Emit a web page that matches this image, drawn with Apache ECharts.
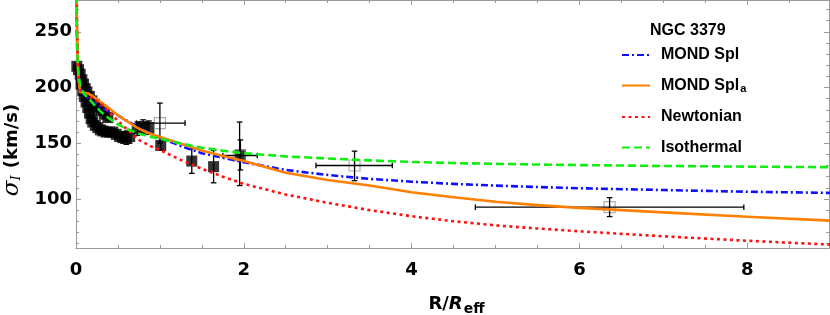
<!DOCTYPE html>
<html><head><meta charset="utf-8">
<script src="https://cdn.jsdelivr.net/npm/echarts@6/dist/echarts.min.js"></script>
<style>html,body{margin:0;padding:0;background:#fff}#c{width:830px;height:315px}</style>
</head><body><div id="c"></div>
<script>
// ---- data ----
const curveX     = [0.001, 0.01, 0.02, 0.03, 0.05, 0.08, 0.1, 0.15, 0.2, 0.3, 0.4, 0.5, 0.6, 0.75, 0.9, 1.0, 1.25, 1.5, 1.75, 2, 2.5, 3, 3.5, 4, 4.5, 5, 5.5, 6, 7, 8, 9];
const mondSpl    = [400, 250, 225, 212, 200, 195, 193, 190, 187, 182, 178.5, 175, 170.5, 164, 158.5, 155, 147.5, 141, 137, 133, 126, 121.5, 118, 115.5, 113.5, 112, 110.7, 109.6, 108, 106.5, 105.4];
const mondSpla   = [420, 262, 225, 207, 196, 195.6, 195.8, 194.5, 192, 186.5, 181, 175, 170, 163, 158, 155.6, 149.5, 143.5, 138.5, 134, 123.5, 117, 112, 106, 101.5, 97.5, 94.5, 92, 88, 84, 80.5];
const newtonian  = [420, 262, 225, 210, 198, 195, 194, 192, 190, 185, 177.5, 170, 163, 153, 147, 144, 135, 127, 120, 113.5, 104, 96.5, 90, 84.5, 80, 76.3, 73.5, 71, 66.5, 62.5, 59];
const isothermal = [380, 240, 222, 212, 202, 197, 194, 190, 186, 178, 172, 167, 163, 158.6, 155.5, 154, 149.7, 146, 143.3, 141, 138.2, 136.3, 134.6, 133.2, 132.2, 131.5, 130.9, 130.4, 129.6, 129, 128.5];

// filled data points (x, sigma, error)
const filledX   = [0.01, 0.03, 0.05, 0.07, 0.09, 0.11, 0.13, 0.16, 0.19, 0.22, 0.26, 0.30, 0.34, 0.38,
                   0.06, 0.08, 0.10, 0.12, 0.14, 0.16, 0.18, 0.20, 0.23, 0.26, 0.29, 0.32, 0.36, 0.40, 0.44, 0.48, 0.52, 0.56, 0.60, 0.64,
                   0.73, 0.80, 0.87, 1.01, 1.38, 1.64, 1.96];
const filledY   = [219, 216, 212, 207, 203, 199, 196, 192, 188, 185, 182, 179, 176, 173,
                   203, 197, 192, 187, 182, 177, 172, 169, 166, 164, 162, 161, 160, 160, 160, 158, 156, 155, 155, 156,
                   163, 165, 164, 148, 134, 129, 139.5];
const filledErr = [3, 3, 3, 3, 3, 3, 3, 3, 3, 3, 3, 3, 3, 3,
                   3, 3, 3, 3, 3, 3, 3, 3, 3, 3, 3, 3, 3, 3, 3, 4, 4, 5, 6, 6,
                   6, 6, 6, 4, 11, 14.5, 13.5];

// open data points (x, sigma, x-range, sigma-range)
const openX   = [1.0, 1.95, 3.32, 6.36];
const openY   = [168, 139, 130, 92.6];
const openXLo = [0.72, 1.75, 2.86, 4.76];
const openXHi = [1.30, 2.16, 3.77, 7.96];
const openYLo = [150, 112, 116.4, 84.2];
const openYHi = [186, 169, 142.9, 101.2];

// axes ticks
const xTickLabels = [0, 2, 4, 6, 8];
const xMinorTicks = [0.5, 1, 1.5, 2.5, 3, 3.5, 4.5, 5, 5.5, 6.5, 7, 7.5, 8.5];
const yTickLabels = [100, 150, 200, 250];
const yMinorTicks = [60, 70, 80, 90, 110, 120, 130, 140, 160, 170, 180, 190, 210, 220, 230, 240, 260, 270];

const X_MIN = 0, X_MAX = 8.975, Y_MIN = 56, Y_MAX = 278.5;
const FRAME = '#9a9a9a';
const FONT = 'Liberation Sans, Arial, sans-serif';
const WIDE = 'DejaVu Sans, sans-serif';

function zip(a, b) { return a.map((v, i) => [v, b[i]]); }

function xAxisDef(pos, major, showLabel) {
  return {
    type: 'value', min: X_MIN, max: X_MAX, position: pos,
    axisLine: { show: true, onZero: false, lineStyle: { color: FRAME, width: 1 } },
    axisTick: { show: true, inside: true, length: major ? 5 : 3, customValues: major ? xTickLabels : xMinorTicks, lineStyle: { color: FRAME } },
    axisLabel: { show: showLabel, customValues: xTickLabels, fontSize: 18, fontWeight: 'bold', color: '#000', fontFamily: WIDE, margin: 13 },
    splitLine: { show: false }
  };
}
function yAxisDef(pos, major, showLabel) {
  return {
    type: 'value', min: Y_MIN, max: Y_MAX, position: pos,
    axisLine: { show: true, onZero: false, lineStyle: { color: FRAME, width: 1 } },
    axisTick: { show: true, inside: true, length: major ? 5 : 3, customValues: major ? yTickLabels : yMinorTicks, lineStyle: { color: FRAME } },
    axisLabel: { show: showLabel, customValues: yTickLabels, fontSize: 18, fontWeight: 'bold', color: '#000', fontFamily: WIDE, margin: 4 },
    splitLine: { show: false }
  };
}

const xAxes = [xAxisDef('bottom', true, true), xAxisDef('bottom', false, false), xAxisDef('top', true, false), xAxisDef('top', false, false)];
xAxes[0].name = '{b|R/}{i|R}{s|eff}';
xAxes[0].nameLocation = 'middle';
xAxes[0].nameGap = 45;
xAxes[0].nameTextStyle = {
  color: '#000', fontFamily: WIDE, padding: [0, 0, 0, 8],
  rich: {
    b: { fontSize: 18, fontWeight: 'bold', color: '#000', fontFamily: WIDE },
    i: { fontSize: 18, fontWeight: 'bold', fontStyle: 'italic', color: '#000', fontFamily: WIDE },
    s: { fontSize: 14, fontWeight: 'bold', color: '#000', fontFamily: WIDE, padding: [9, 0, 0, 1] }
  }
};
const yAxes = [yAxisDef('left', true, true), yAxisDef('left', false, false), yAxisDef('right', true, false), yAxisDef('right', false, false)];
yAxes[0].name = '{g|σ}{s|I}{b| (km/s)}';
yAxes[0].nameLocation = 'middle';
yAxes[0].nameGap = 49;
yAxes[0].nameTextStyle = {
  color: '#000', fontFamily: WIDE, padding: [0, 52, 0, 0],
  rich: {
    g: { fontSize: 23, fontStyle: 'italic', color: '#000', fontFamily: 'DejaVu Serif, serif' },
    s: { fontSize: 13, fontStyle: 'italic', color: '#000', fontFamily: 'DejaVu Serif, serif', padding: [9, 1, 0, 0] },
    b: { fontSize: 18, fontWeight: 'bold', color: '#000', fontFamily: WIDE }
  }
};

function errorBarSeries(name, data, color) {
  return {
    type: 'custom', name: name, xAxisIndex: 0, yAxisIndex: 0, z: 3,
    silent: true,
    renderItem: function (params, api) {
      const x = api.value(0), y = api.value(1);
      const xlo = api.value(2), xhi = api.value(3), ylo = api.value(4), yhi = api.value(5);
      const c = 2.8;
      const children = [];
      const pLo = api.coord([x, ylo]), pHi = api.coord([x, yhi]);
      const st = { stroke: color, lineWidth: 1.3 };
      children.push({ type: 'line', shape: { x1: pLo[0], y1: pLo[1], x2: pHi[0], y2: pHi[1] }, style: st });
      children.push({ type: 'line', shape: { x1: pLo[0] - c, y1: pLo[1], x2: pLo[0] + c, y2: pLo[1] }, style: st });
      children.push({ type: 'line', shape: { x1: pHi[0] - c, y1: pHi[1], x2: pHi[0] + c, y2: pHi[1] }, style: st });
      if (xlo !== xhi) {
        const qL = api.coord([xlo, y]), qR = api.coord([xhi, y]);
        children.push({ type: 'line', shape: { x1: qL[0], y1: qL[1], x2: qR[0], y2: qR[1] }, style: st });
        children.push({ type: 'line', shape: { x1: qL[0], y1: qL[1] - c, x2: qL[0], y2: qL[1] + c }, style: st });
        children.push({ type: 'line', shape: { x1: qR[0], y1: qR[1] - c, x2: qR[0], y2: qR[1] + c }, style: st });
      }
      return { type: 'group', children: children };
    },
    data: data
  };
}

const filledBars = filledX.map((x, i) => [x, filledY[i], x, x, filledY[i] - filledErr[i], filledY[i] + filledErr[i]]);
const openBars = openX.map((x, i) => [x, openY[i], openXLo[i], openXHi[i], openYLo[i], openYHi[i]]);

function curve(name, ys, color, type) {
  return {
    type: 'line', name: name, data: zip(curveX, ys), xAxisIndex: 0, yAxisIndex: 0,
    showSymbol: false, symbol: 'none', smooth: false, clip: true, z: 5,
    lineStyle: { color: color, width: 2.6, type: type, cap: 'butt', join: 'round' },
    itemStyle: { color: color },
    emphasis: { disabled: true }
  };
}

const option = {
  animation: false,
  backgroundColor: '#fff',
  grid: { left: 76, right: 1, top: 0, bottom: 67, containLabel: false, outerBoundsMode: 'none' },
  title: {
    text: 'NGC 3379', left: 645, top: 18,
    textStyle: { fontSize: 16, fontWeight: 'bold', color: '#000', fontFamily: FONT }
  },
  legend: {
    orient: 'vertical', left: 616, top: 42, itemWidth: 28, itemHeight: 14, itemGap: 14.5,
    data: ['MOND Spl', 'MOND Spl_a', 'Newtonian', 'Isothermal'],
    itemStyle: { color: 'rgba(0,0,0,0)', borderColor: 'rgba(0,0,0,0)', borderWidth: 0 },
    formatter: function (n) { return n === 'MOND Spl_a' ? '{b|MOND Spl}{s|a}' : '{b|' + n + '}'; },
    textStyle: {
      fontSize: 16, fontWeight: 'bold', color: '#000', fontFamily: FONT, padding: [0, 0, 0, 6],
      rich: {
        b: { fontSize: 16, fontWeight: 'bold', color: '#000', fontFamily: FONT, lineHeight: 18 },
        s: { fontSize: 11, fontWeight: 'bold', color: '#000', fontFamily: FONT, lineHeight: 11, verticalAlign: 'bottom', padding: [0, 0, 0, 1] }
      }
    }
  },
  xAxis: xAxes,
  yAxis: yAxes,
  series: [
    errorBarSeries('filledErr', filledBars, '#000'),
    {
      type: 'scatter', name: 'filled', data: zip(filledX, filledY), symbol: 'rect', symbolSize: 11, z: 2,
      itemStyle: { color: '#000' }, silent: true
    },
    {
      type: 'scatter', name: 'open', data: zip(openX, openY), symbol: 'rect', symbolSize: 11, z: 2,
      itemStyle: { color: 'rgba(0,0,0,0)', borderColor: '#999', borderWidth: 1.2 }, silent: true
    },
    errorBarSeries('openErr', openBars, '#000'),
    curve('MOND Spl', mondSpl, '#1010ff', [7, 3, 2, 3]),
    curve('MOND Spl_a', mondSpla, '#ff8000', 'solid'),
    curve('Newtonian', newtonian, '#ff1010', [3, 3.5]),
    curve('Isothermal', isothermal, '#10ee10', [8, 4])
  ]
};
const chart = echarts.init(document.getElementById('c'), null, { renderer: 'canvas' });
chart.setOption(option);
</script></body></html>
